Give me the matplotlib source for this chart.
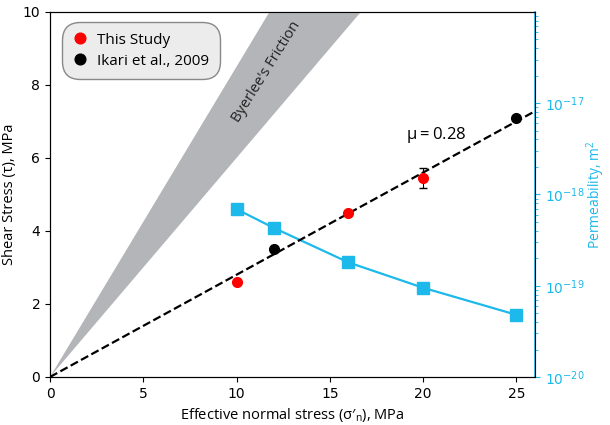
import numpy as np
import matplotlib.pyplot as plt

# shear stress data
study_x = [10, 16, 20]
study_tau = [2.6, 4.5, 5.45]
study_err = [0, 0, 0.28]
ikari_x = [12, 25]
ikari_tau = [3.5, 7.1]

# permeability data
perm_x = [10, 12, 16, 20, 25]
perm_k = [6.9e-19, 4.3e-19, 1.8e-19, 9.5e-20, 4.8e-20]

mu = 0.28
byerlee_lo = 0.6
byerlee_hi = 0.85

cyan = '#1cb9ea'
label_font = 'Open Sans'

fig = plt.figure(figsize=(6.1, 4.25), dpi=100)
ax = fig.add_axes([0.082, 0.113, 0.795, 0.859])

xs = np.array([0, 26])
ax.fill_between(xs, byerlee_lo * xs, byerlee_hi * xs, color='#b3b5b8', lw=0, zorder=1)
ax.text(11.6, 8.35, "Byerlee's Friction", rotation=58, ha='center', va='center',
        fontsize=10.5, family=label_font, color='#222222')

ax.plot(xs, mu * xs, '--', color='black', lw=1.6, zorder=3)
ax.text(20.7, 6.63, r'$\mathregular{\mu = 0.28}$', ha='center', va='center', fontsize=12,
        family=label_font)

ax.errorbar(study_x, study_tau, yerr=study_err, fmt='none',
            ecolor='black', elinewidth=0.8, capsize=3, zorder=4)
h1, = ax.plot(study_x, study_tau, 'o', color='red', ms=7, zorder=5, label='This Study')
h2, = ax.plot(ikari_x, ikari_tau, 'o', color='black', ms=7, zorder=5, label='Ikari et al., 2009')

ax.set_xlim(0, 26)
ax.set_ylim(0, 10)
ax.set_xticks([0, 5, 10, 15, 20, 25])
ax.set_yticks([0, 2, 4, 6, 8, 10])
ax.tick_params(labelsize=10)
ax.set_xlabel("Effective normal stress (σ′$_\\mathregular{n}$), MPa", fontsize=10.5, family=label_font)
ax.set_ylabel('Shear Stress (τ), MPa', fontsize=10.5, family=label_font)

leg = ax.legend(handles=[h1, h2], loc='upper left', prop={'family': label_font, 'size': 11},
                markerscale=1.1, handletextpad=0.6, borderpad=0.5, labelspacing=0.4,
                fancybox=True, facecolor='#ececec', edgecolor='#888888', framealpha=1,
                bbox_to_anchor=(0.015, 0.985), handlelength=1.0)
leg.get_frame().set_boxstyle('round,pad=0.2,rounding_size=1.2')

ax2 = ax.twinx()
ax2.plot(perm_x, perm_k, 's-', color=cyan, ms=8, lw=1.6, zorder=2)
ax2.set_yscale('log')
ax2.set_ylim(1e-20, 1e-16)
ax2.set_yticks([1e-20, 1e-19, 1e-18, 1e-17])
ax2.tick_params(axis='y', colors=cyan, which='both', labelsize=10)
ax2.spines['right'].set_color(cyan)
ax2.spines['right'].set_linewidth(1.2)
ax2.set_ylabel('Permeability, m$^\\mathregular{2}$', color=cyan, fontsize=10,
               family=label_font, labelpad=0)

ax.set_zorder(ax2.get_zorder() + 1)
ax.patch.set_visible(False)

fig.savefig('out.png', dpi=100)
